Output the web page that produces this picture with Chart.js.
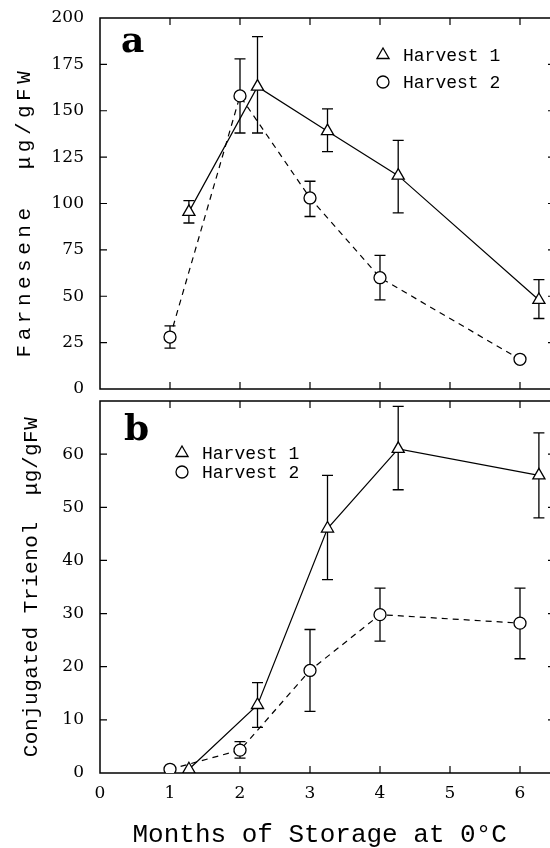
<!DOCTYPE html>
<html><head><meta charset="utf-8">
<script src="https://cdn.jsdelivr.net/npm/chart.js@4.4.1/dist/chart.umd.min.js"></script>
<style>
html,body{margin:0;padding:0;background:#fff;overflow:hidden;width:550px;height:848px;}
#wrap{position:relative;width:550px;height:848px;overflow:hidden;background:#fff;}
canvas{position:absolute;left:0;}
#c1{top:0;} #c2{top:390px;}
</style></head><body>
<div id="wrap"><canvas id="c1" width="570" height="400"></canvas><canvas id="c2" width="570" height="458"></canvas></div>
<script>
// ---- data ----
const months1 = [1.27, 2.25, 3.25, 4.26, 6.27];   // Harvest 1
const months2 = [1, 2, 3, 4, 6];                   // Harvest 2
const xTicks = [0, 1, 2, 3, 4, 5, 6];

const farnH1   = [95.5, 163, 139, 115, 48];
const farnH1Lo = [89.5, 138, 128, 95, 38];
const farnH1Hi = [101.5, 190, 151, 134, 59];
const farnH2   = [28, 158, 103, 60, 16];
const farnH2Lo = [22, 138, 93, 48, null];
const farnH2Hi = [34, 178, 112, 72, null];

const trienH1   = [0.7, 12.8, 46, 61, 56];
const trienH1Lo = [null, 8.6, 36.4, 53.3, 48];
const trienH1Hi = [null, 17, 56, 69, 64];
const trienH2   = [0.7, 4.3, 19.3, 29.8, 28.2];
const trienH2Lo = [null, 2.8, 11.6, 24.8, 21.5];
const trienH2Hi = [null, 5.9, 27, 34.8, 34.8];

const farnTicks = [0, 25, 50, 75, 100, 125, 150, 175, 200];
const trienTicks = [0, 10, 20, 30, 40, 50, 60];
const seriesNames = ['Harvest 1', 'Harvest 2'];

function pts(xs, ys) { return xs.map((x, i) => ({x: x, y: ys[i]})); }

const MONO = 'Liberation Mono';
const SERIF = 'DejaVu Serif';

// ---- plugins ----
const framePlugin = {
  id: 'frame',
  beforeDatasetsDraw(chart) {
    const {ctx, chartArea: a, scales} = chart;
    ctx.save();
    ctx.strokeStyle = '#000';
    ctx.lineWidth = 1.5;
    ctx.strokeRect(a.left, a.top, a.right - a.left, a.bottom - a.top);
    ctx.lineWidth = 1.2;
    const tl = 7;
    ctx.beginPath();
    xTicks.forEach(v => {
      const px = scales.x.getPixelForValue(v);
      if (px <= a.left + 1) return;
      ctx.moveTo(px, a.top); ctx.lineTo(px, a.top + tl);
      ctx.moveTo(px, a.bottom); ctx.lineTo(px, a.bottom - tl);
    });
    const yt = chart.options.plugins.frame.yTicks;
    yt.forEach(v => {
      const py = scales.y.getPixelForValue(v);
      if (py <= a.top + 1 || py >= a.bottom - 1) return;
      ctx.moveTo(a.left, py); ctx.lineTo(a.left + tl, py);
      ctx.moveTo(a.right, py); ctx.lineTo(a.right - tl, py);
    });
    ctx.stroke();
    // error bars
    ctx.lineWidth = 1.3;
    chart.data.datasets.forEach(ds => {
      ds.data.forEach((p, i) => {
        const lo = ds.errLo[i], hi = ds.errHi[i];
        if (lo == null || hi == null) return;
        const px = scales.x.getPixelForValue(p.x);
        const pl = scales.y.getPixelForValue(lo);
        const ph = scales.y.getPixelForValue(hi);
        ctx.beginPath();
        ctx.moveTo(px, pl); ctx.lineTo(px, ph);
        ctx.moveTo(px - 5.5, pl); ctx.lineTo(px + 5.5, pl);
        ctx.moveTo(px - 5.5, ph); ctx.lineTo(px + 5.5, ph);
        ctx.stroke();
      });
    });
    ctx.restore();
  },
  afterDatasetsDraw(chart) {
    const o = chart.options.plugins.frame;
    const ctx = chart.ctx;
    ctx.save();
    ctx.fillStyle = '#000';
    ctx.font = 'bold 36px ' + SERIF;
    ctx.textBaseline = 'alphabetic';
    ctx.fillText(o.letter, o.letterX, o.letterY);
    // legend
    ctx.font = '18px ' + MONO;
    ctx.textBaseline = 'middle';
    const styles = ['triangle', 'circle'];
    const radii = [7, 6];
    seriesNames.forEach((n, i) => {
      const y = o.legY + i * o.legGap;
      ctx.strokeStyle = '#000'; ctx.fillStyle = '#fff'; ctx.lineWidth = 1.3;
      Chart.helpers.drawPoint(ctx, {pointStyle: styles[i], radius: radii[i], borderWidth: 1.3}, o.legX, y);
      ctx.fillStyle = '#000';
      ctx.fillText(n, o.legX + 20, y + 1);
    });
    ctx.restore();
  },
  beforeDraw(chart) {
    const s = chart.scales.y;
    if (s && !s._lsPatched) {
      const orig = s.drawTitle.bind(s);
      const ls = chart.options.plugins.frame.titleSpacing;
      s.drawTitle = function () {
        const c = this.ctx; c.save(); c.letterSpacing = ls + 'px'; orig(); c.restore();
      };
      s._lsPatched = true;
    }
  }
};

function makeChart(id, cfg) {
  return new Chart(document.getElementById(id), {
    type: 'line',
    data: {
      datasets: [
        {label: seriesNames[0], data: pts(months1, cfg.h1), errLo: cfg.h1Lo, errHi: cfg.h1Hi,
         borderColor: '#000', borderWidth: 1.2, pointStyle: 'triangle', pointRadius: 7,
         pointBackgroundColor: '#fff', pointBorderColor: '#000', pointBorderWidth: 1.3, tension: 0, fill: false},
        {label: seriesNames[1], data: pts(months2, cfg.h2), errLo: cfg.h2Lo, errHi: cfg.h2Hi,
         borderColor: '#000', borderWidth: 1.2, borderDash: [6, 5], pointStyle: 'circle', pointRadius: 6,
         pointBackgroundColor: '#fff', pointBorderColor: '#000', pointBorderWidth: 1.3, tension: 0, fill: false}
      ]
    },
    options: {
      responsive: false, animation: false,
      layout: {padding: {top: cfg.padTop, right: 15, bottom: 0, left: 0}},
      plugins: {
        legend: {display: false}, tooltip: {enabled: false},
        frame: {yTicks: cfg.yTicks, letter: cfg.letter, letterX: cfg.letterX, letterY: cfg.letterY,
                legX: cfg.legX, legY: cfg.legY, legGap: cfg.legGap, titleSpacing: cfg.titleSpacing}
      },
      scales: {
        x: {
          type: 'linear', min: 0, max: 6.5,
          afterFit(s) { s.height = cfg.xH; s.paddingLeft = 0; s.paddingRight = 0; s.paddingTop = 0; s.paddingBottom = 0; },
          grid: {display: false, drawTicks: false}, border: {display: false},
          ticks: {display: cfg.xLabels, stepSize: 1, includeBounds: false, padding: 10, autoSkip: false, maxRotation: 0,
                  color: '#000', font: {family: SERIF, size: 17}},
          title: {display: cfg.xLabels, text: 'Months of Storage at 0°C ', color: '#000',
                  font: {family: MONO, size: 26, lineHeight: 1}, padding: {top: 0, bottom: 0}}
        },
        y: {
          type: 'linear', min: 0, max: cfg.yMax,
          afterFit(s) { s.width = 100; s.paddingTop = 0; s.paddingBottom = 0; s.paddingLeft = 0; s.paddingRight = 0; },
          grid: {display: false, drawTicks: false}, border: {display: false},
          ticks: {stepSize: cfg.yStep, padding: 16, color: '#000', font: {family: SERIF, size: 17},
                  callback: v => (cfg.yTicks.includes(v) ? String(v) : '')},
          title: {display: true, text: cfg.yTitle, color: '#000',
                  font: {family: MONO, size: 21, lineHeight: 1}, padding: {top: cfg.titlePad, bottom: 0}}
        }
      }
    },
    plugins: [framePlugin]
  });
}

makeChart('c1', {
  h1: farnH1, h1Lo: farnH1Lo, h1Hi: farnH1Hi, h2: farnH2, h2Lo: farnH2Lo, h2Hi: farnH2Hi,
  yMax: 200, yStep: 25, yTicks: farnTicks, yTitle: 'Farnesene  μg/gFW ',
  padTop: 18, xH: 11, xLabels: false, titlePad: 14, titleSpacing: 4.5,
  letter: 'a', letterX: 121, letterY: 52, legX: 383, legY: 55, legGap: 27
});
makeChart('c2', {
  h1: trienH1, h1Lo: trienH1Lo, h1Hi: trienH1Hi, h2: trienH2, h2Lo: trienH2Lo, h2Hi: trienH2Hi,
  yMax: 70, yStep: 10, yTicks: trienTicks, yTitle: 'Conjugated Trienol  μg/gFW',
  padTop: 11, xH: 75, xLabels: true, titlePad: 21, titleSpacing: 0.5,
  letter: 'b', letterX: 124, letterY: 50, legX: 182, legY: 63, legGap: 19
});
</script>
</body></html>
